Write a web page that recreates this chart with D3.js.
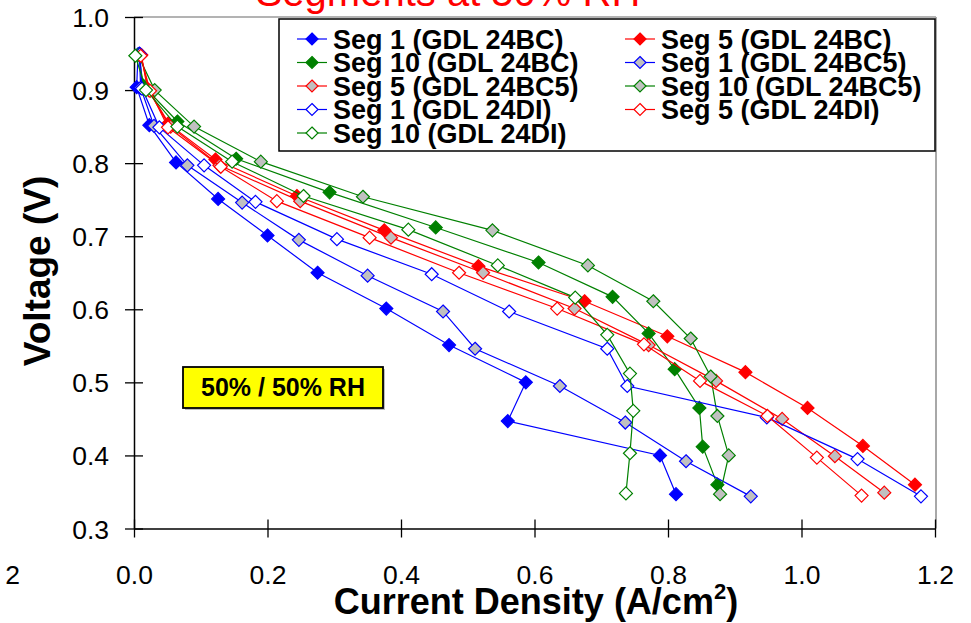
<!DOCTYPE html>
<html>
<head>
<meta charset="utf-8">
<script src="https://cdn.jsdelivr.net/npm/d3@7/dist/d3.min.js"></script>
<style>
  html, body { margin: 0; padding: 0; background: #fff; }
  svg { display: block; font-family: "Liberation Sans", Arial, sans-serif; }
</style>
</head>
<body>
<svg id="chart" width="971" height="623"></svg>
<script>
// ---------------- DATA ----------------
const xTicks = [0.0, 0.2, 0.4, 0.6, 0.8, 1.0, 1.2];
const yTicks = [0.3, 0.4, 0.5, 0.6, 0.7, 0.8, 0.9, 1.0];

const seg1_24BC = [[0.006,0.949],[0.004,0.904],[0.023,0.852],[0.063,0.801],[0.126,0.751],[0.200,0.701],[0.275,0.650],[0.378,0.601],[0.472,0.551],[0.587,0.500],[0.560,0.447],[0.788,0.400],[0.812,0.347]];
const seg5_24BC = [[0.011,0.948],[0.020,0.902],[0.051,0.854],[0.122,0.805],[0.244,0.755],[0.375,0.708],[0.516,0.659],[0.675,0.611],[0.799,0.563],[0.916,0.514],[1.009,0.465],[1.092,0.413],[1.170,0.360]];
const seg10_24BC = [[0.007,0.949],[0.014,0.906],[0.065,0.857],[0.153,0.806],[0.293,0.760],[0.452,0.712],[0.606,0.664],[0.717,0.617],[0.771,0.567],[0.810,0.518],[0.847,0.465],[0.852,0.412],[0.874,0.360]];
const seg1_24BC5 = [[0.008,0.950],[0.010,0.903],[0.030,0.851],[0.080,0.797],[0.162,0.746],[0.247,0.695],[0.350,0.646],[0.463,0.597],[0.511,0.546],[0.638,0.495],[0.736,0.445],[0.827,0.392],[0.924,0.344]];
const seg5_24BC5 = [[0.010,0.948],[0.022,0.900],[0.055,0.850],[0.128,0.797],[0.249,0.748],[0.385,0.698],[0.523,0.650],[0.660,0.601],[0.771,0.551],[0.872,0.502],[0.971,0.450],[1.050,0.399],[1.124,0.349]];
const seg10_24BC5 = [[0.006,0.948],[0.031,0.900],[0.090,0.850],[0.190,0.802],[0.343,0.754],[0.537,0.708],[0.680,0.660],[0.778,0.611],[0.834,0.560],[0.864,0.508],[0.874,0.454],[0.891,0.400],[0.878,0.347]];
const seg1_24DI = [[0.009,0.949],[0.012,0.902],[0.038,0.849],[0.105,0.797],[0.182,0.747],[0.304,0.696],[0.446,0.648],[0.562,0.597],[0.709,0.546],[0.739,0.495],[0.948,0.452],[1.084,0.395],[1.179,0.344]];
const seg5_24DI = [[0.010,0.947],[0.024,0.899],[0.051,0.849],[0.130,0.795],[0.214,0.748],[0.353,0.698],[0.487,0.650],[0.634,0.601],[0.764,0.552],[0.848,0.502],[0.949,0.454],[1.023,0.397],[1.090,0.345]];
const seg10_24DI = [[0.002,0.947],[0.018,0.900],[0.065,0.850],[0.147,0.802],[0.254,0.755],[0.411,0.709],[0.545,0.660],[0.661,0.616],[0.709,0.565],[0.743,0.512],[0.748,0.461],[0.743,0.403],[0.737,0.348]];

const seriesNames = ["Seg 1 (GDL 24BC)","Seg 5 (GDL 24BC)","Seg 10 (GDL 24BC)",
                     "Seg 1 (GDL 24BC5)","Seg 5 (GDL 24BC5)","Seg 10 (GDL 24BC5)",
                     "Seg 1 (GDL 24DI)","Seg 5 (GDL 24DI)","Seg 10 (GDL 24DI)"];
const seriesData = [seg1_24BC, seg5_24BC, seg10_24BC, seg1_24BC5, seg5_24BC5, seg10_24BC5, seg1_24DI, seg5_24DI, seg10_24DI];

// ---------------- STYLE ----------------
const segColors = ["#0000ff", "#ff0000", "#008000"];
const gdlFill = ["solid", "#c0c0c0", "#ffffff"];
const series = seriesNames.map((name, i) => {
  const c = segColors[i % 3];
  const f = gdlFill[Math.floor(i / 3)];
  return { name, data: seriesData[i], color: c, fill: f === "solid" ? c : f };
});

const svg = d3.select("#chart");
const x = d3.scaleLinear().domain([0, 1.2]).range([134, 935]);
const y = d3.scaleLinear().domain([0.3, 1.0]).range([528.5, 17]);

const diamond = r => `M0,${-r}L${r},0L0,${r}L${-r},0Z`;

// Title (cut at top)
svg.append("text")
  .attr("x", 448).attr("y", 6)
  .attr("text-anchor", "middle")
  .attr("font-size", 40).attr("fill", "#ff0000")
  .text("Segments at 50% RH");

// Plot frame (top & right, grey)
svg.append("line").attr("x1", x(0)).attr("x2", x(1.2) + 1).attr("y1", y(1.0)).attr("y2", y(1.0))
  .attr("stroke", "#9a9a9a").attr("stroke-width", 1.5);
svg.append("line").attr("x1", x(1.2) + 1).attr("x2", x(1.2) + 1).attr("y1", y(1.0)).attr("y2", y(0.3))
  .attr("stroke", "#a8a8a8").attr("stroke-width", 2);

// Axes
const yAxis = svg.append("g").attr("transform", `translate(${x(0)},0)`)
  .call(d3.axisLeft(y).tickValues(yTicks).tickFormat(d3.format(".1f")).tickSize(9).tickSizeOuter(0).tickPadding(16));
yAxis.selectAll(".tick line").attr("x1", 9).attr("stroke", "#000").attr("stroke-width", 1.3);
yAxis.select(".domain").attr("stroke", "#000").attr("stroke-width", 1.5);
yAxis.selectAll(".tick text").attr("font-size", 26.5).attr("font-family", "Liberation Sans, Arial, sans-serif")
  .attr("fill", "#000").attr("dy", "0.36em");

const xAxis = svg.append("g").attr("transform", `translate(0,${y(0.3)})`)
  .call(d3.axisBottom(x).tickValues(xTicks).tickFormat(d3.format(".1f")).tickSize(9).tickSizeOuter(0));
xAxis.selectAll(".tick line").attr("y1", -9).attr("stroke", "#000").attr("stroke-width", 1.3);
xAxis.select(".domain").attr("stroke", "#000").attr("stroke-width", 1.5);
xAxis.selectAll(".tick text").attr("font-size", 26.5).attr("font-family", "Liberation Sans, Arial, sans-serif")
  .attr("fill", "#000").attr("y", 55).attr("dy", 0);

// clipped "-0.2" label remnant at far left
svg.append("text").attr("x", 20).attr("y", y(0.3) + 55).attr("text-anchor", "end")
  .attr("font-size", 26.5).text("2");

// Axis titles
svg.append("text")
  .attr("transform", `translate(50,271) rotate(-90)`)
  .attr("text-anchor", "middle").attr("font-size", 37).attr("font-weight", "bold")
  .text("Voltage (V)");

const xt = svg.append("text").attr("x", 536).attr("y", 614)
  .attr("text-anchor", "middle").attr("font-size", 36).attr("font-weight", "bold");
xt.append("tspan").text("Current Density (A/cm");
xt.append("tspan").attr("font-size", 22).attr("dy", -15).text("2");
xt.append("tspan").attr("dy", 15).text(")");

// Series
const line = d3.line().x(d => x(d[0])).y(d => y(d[1]));
series.forEach(s => {
  const g = svg.append("g");
  g.append("path").attr("d", line(s.data)).attr("fill", "none")
    .attr("stroke", s.color).attr("stroke-width", 1.2);
  g.selectAll("path.m").data(s.data).enter().append("path").attr("class", "m")
    .attr("d", diamond(6.5))
    .attr("transform", d => `translate(${x(d[0])},${y(d[1])})`)
    .attr("fill", s.fill).attr("stroke", s.color).attr("stroke-width", 1.2);
});

// Legend
const lg = svg.append("g");
lg.append("rect").attr("x", 279).attr("y", 19).attr("width", 656).attr("height", 132)
  .attr("fill", "#fff").attr("stroke", "#000").attr("stroke-width", 1.5);
const colX = [297, 625];
series.forEach((s, i) => {
  const cx = colX[i % 2];
  const cy = 39 + Math.floor(i / 2) * 23.5;
  lg.append("line").attr("x1", cx).attr("x2", cx + 30).attr("y1", cy).attr("y2", cy)
    .attr("stroke", s.color).attr("stroke-width", 1.2);
  lg.append("path").attr("d", diamond(6)).attr("transform", `translate(${cx + 15},${cy})`)
    .attr("fill", s.fill).attr("stroke", s.color).attr("stroke-width", 1.2);
  lg.append("text").attr("x", cx + 36).attr("y", cy + 9.5)
    .attr("font-size", 27).attr("font-weight", "bold").text(s.name);
});

// Annotation box
svg.append("rect").attr("x", 185).attr("y", 369).attr("width", 200).attr("height", 41)
  .attr("fill", "#bdbdbd");
svg.append("rect").attr("x", 183).attr("y", 367).attr("width", 200).attr("height", 41)
  .attr("fill", "#ffff00").attr("stroke", "#000").attr("stroke-width", 1.8);
svg.append("text").attr("x", 283).attr("y", 396).attr("text-anchor", "middle")
  .attr("font-size", 25).attr("font-weight", "bold").text("50% / 50% RH");
</script>
</body>
</html>
